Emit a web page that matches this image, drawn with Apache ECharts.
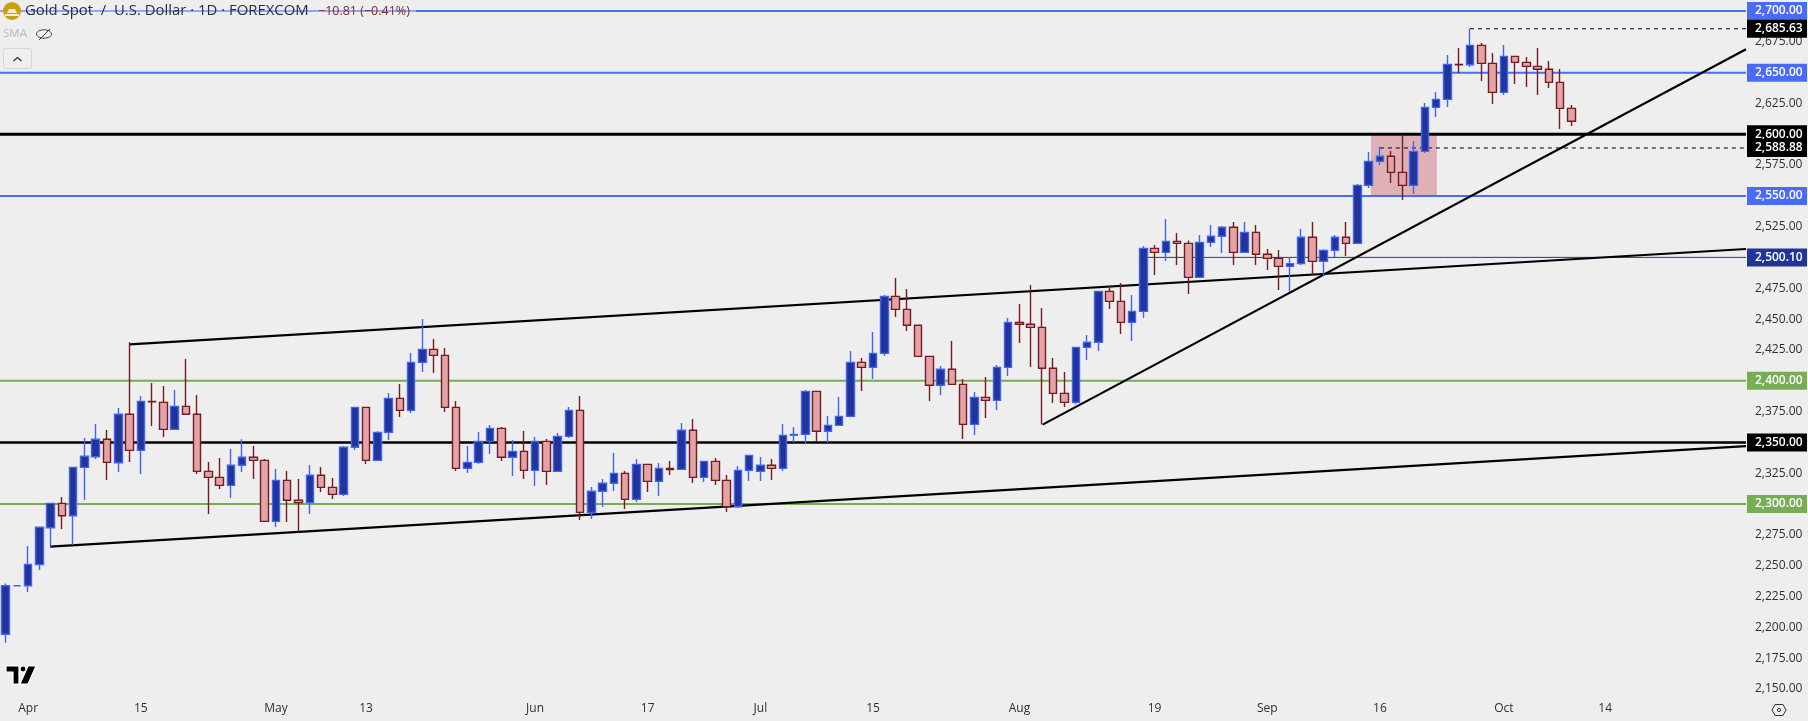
<!DOCTYPE html>
<html><head><meta charset="utf-8">
<style>html,body{margin:0;padding:0;background:#eeeeee}#c{width:1808px;height:721px}</style>
<script src="https://cdn.jsdelivr.net/npm/echarts@6/dist/echarts.min.js"></script>
</head><body><div id="c"></div>
<script>
const opens=[2194.3,2233.7,2233.7,2250.8,2280.8,2300.5,2290.5,2329.7,2338.4,2352.5,
2333.5,2372.8,2343.5,2383.3,2382.5,2360.6,2379.2,2372.8,2326.5,2321.6,
2315.1,2331.4,2337.9,2335.4,2285.9,2319.2,2303.0,2301.1,2323.3,2313.5,
2307.8,2346.0,2378.4,2335.4,2358.1,2385.7,2376.0,2414.9,2425.5,2420.6,
2378.4,2328.9,2333.8,2350.8,2361.4,2337.9,2342.7,2327.3,2350.8,2326.5,
2354.9,2376.0,2293.2,2310.3,2316.8,2324.9,2303.8,2332.2,2318.4,2328.9,
2328.1,2359.8,2321.6,2334.6,2319.2,2297.8,2327.3,2326.5,2331.4,2328.9,
2355.7,2356.5,2391.4,2359.0,2363.8,2371.1,2414.9,2410.9,2422.2,2468.5,
2457.9,2445.0,2419.8,2396.3,2409.3,2397.1,2364.6,2386.5,2384.1,2410.9,
2447.4,2445.8,2443.3,2410.1,2389.8,2382.5,2427.1,2431.2,2472.5,2464.4,
2447.4,2456.3,2507.4,2504.2,2513.1,2511.5,2483.9,2512.3,2517.2,2524.5,
2504.2,2520.4,2502.6,2499.3,2492.8,2495.0,2516.4,2496.9,2505.8,2516.4,
2511.5,2558.5,2578.0,2582.1,2569.1,2558.5,2586.1,2621.8,2628.3,2656.7,
2656.4,2672.1,2657.5,2634.0,2663.2,2658.3,2655.1,2652.7,2642.1,2621.0];
const closes=[2233.7,2233.7,2251.0,2281.1,2300.5,2290.5,2329.7,2338.7,2352.5,2333.8,
2372.8,2343.5,2383.3,2383.0,2360.6,2379.2,2372.8,2326.5,2321.6,2315.1,
2331.4,2337.9,2335.4,2285.9,2319.2,2303.0,2301.1,2323.3,2313.5,2307.8,
2346.0,2378.4,2335.4,2358.1,2385.7,2376.0,2414.9,2425.5,2420.6,2378.4,
2328.9,2333.8,2350.8,2361.4,2337.9,2342.7,2327.3,2350.8,2326.5,2354.9,
2376.0,2293.2,2310.3,2316.8,2324.9,2303.8,2332.2,2318.4,2328.9,2327.9,
2359.8,2321.6,2334.6,2319.2,2297.8,2327.3,2339.5,2331.4,2328.9,2355.7,
2356.5,2391.4,2359.0,2363.8,2371.1,2414.9,2410.9,2422.2,2468.5,2457.9,
2445.0,2419.8,2396.3,2409.3,2397.1,2364.6,2386.5,2384.1,2410.9,2447.4,
2445.8,2443.3,2410.1,2389.8,2382.5,2427.1,2431.2,2472.5,2464.4,2447.4,
2456.3,2507.4,2504.2,2513.1,2511.5,2483.9,2512.3,2517.2,2524.5,2504.2,
2520.4,2502.6,2499.3,2492.8,2495.0,2516.4,2496.9,2505.8,2516.4,2511.5,
2558.5,2578.0,2582.1,2569.1,2558.5,2586.1,2621.8,2628.3,2656.7,2656.4,
2672.1,2657.5,2634.0,2663.2,2658.3,2655.1,2652.7,2642.1,2621.0,2610.5];
const lows=[2187.5,2233.7,2228.6,2246.5,2265.4,2279.7,2266.7,2303.2,2336.5,2319.5,
2326.0,2334.1,2324.3,2363.3,2354.4,2360.6,2372.8,2324.3,2291.9,2312.2,
2304.9,2326.0,2320.3,2285.9,2281.3,2285.4,2277.3,2291.9,2309.7,2304.1,
2306.5,2343.8,2332.5,2335.4,2351.9,2370.6,2373.8,2407.1,2406.3,2374.6,
2326.8,2325.2,2332.5,2340.6,2334.9,2322.7,2320.3,2314.6,2315.4,2326.5,
2353.5,2287.0,2287.8,2297.6,2310.5,2295.9,2301.6,2309.7,2306.5,2323.5,
2328.0,2317.0,2317.8,2315.4,2293.5,2296.8,2318.7,2318.7,2319.5,2326.8,
2350.0,2348.7,2351.1,2349.5,2363.8,2371.0,2391.7,2401.4,2420.1,2451.7,
2440.4,2419.5,2383.6,2388.4,2397.0,2352.7,2356.0,2369.8,2376.3,2403.9,
2430.6,2411.2,2364.6,2381.9,2378.7,2380.9,2416.8,2424.1,2458.2,2437.9,
2432.2,2450.9,2485.8,2497.2,2493.9,2470.4,2483.9,2508.5,2503.6,2493.9,
2504.0,2493.9,2489.9,2473.6,2472.0,2493.9,2485.0,2485.5,2500.4,2501.2,
2511.0,2556.4,2575.0,2560.4,2546.6,2551.5,2584.8,2614.0,2622.1,2649.7,
2654.6,2643.2,2624.5,2631.8,2640.8,2638.3,2631.8,2637.5,2604.3,2606.7];
const highs=[2235.6,2233.7,2265.9,2281.6,2301.0,2305.7,2330.0,2353.5,2364.9,2360.0,
2377.9,2431.2,2387.6,2398.2,2395.7,2392.5,2417.6,2388.4,2334.1,2337.3,
2344.6,2352.5,2347.1,2336.5,2328.4,2326.8,2320.3,2331.6,2330.0,2321.1,
2347.1,2378.8,2378.8,2359.0,2390.1,2397.4,2422.5,2450.1,2433.9,2426.6,
2383.6,2347.1,2358.4,2364.1,2362.5,2351.9,2359.2,2354.4,2352.7,2357.6,
2378.7,2387.6,2313.8,2320.3,2341.4,2326.8,2336.5,2332.6,2333.3,2334.9,
2365.7,2369.0,2335.0,2337.3,2323.5,2330.8,2340.0,2338.1,2336.5,2364.9,
2362.5,2392.5,2391.8,2371.4,2386.8,2424.1,2418.5,2439.6,2469.6,2483.4,
2474.4,2445.3,2420.0,2412.0,2432.2,2401.4,2390.9,2403.0,2412.8,2450.9,
2462.3,2477.7,2459.0,2418.5,2407.1,2427.4,2437.1,2472.8,2476.9,2479.3,
2469.6,2509.3,2510.1,2531.2,2519.9,2513.9,2518.3,2526.4,2525.6,2528.8,
2528.8,2526.4,2506.9,2506.1,2500.1,2523.1,2528.8,2506.6,2518.3,2528.8,
2559.6,2585.6,2589.6,2586.4,2600.2,2594.5,2625.4,2634.3,2664.3,2670.0,
2685.63,2674.0,2665.9,2672.4,2663.5,2662.7,2670.0,2659.4,2652.9,2623.7];

const barSlots=155;
const tickIndex=[2,12,24,32,47,57,67,77,90,102,112,122,133,142];
const tickLabels=['Apr','15','May','13','Jun','17','Jul','15','Aug','19','Sep','16','Oct','14'];

const levelPrices=[2700,2685.63,2650,2600,2588.88,2550,2500.10,2400,2350,2300];
const levelStart=[-0.5,130,-0.5,-0.5,122,-0.5,101,-0.5,-0.5,-0.5];

const trendUpper=[[11,2429.5],[154.5,2506.9]];
const trendLower=[[3.94,2265.4],[154.5,2347]];
const trendSteep=[[92.06,2364.4],[154.5,2668.9]];
const zoneBox=[[121.2,2600],[127.06,2550]];

const BLUE='#4a6af8',NAVY='#22349a',GREEN='#76ad55',BLACK='#000000';
const levelStyle=[
 {c:BLUE,w:2},{c:BLACK,w:1,d:[4,4]},{c:BLUE,w:2},{c:BLACK,w:3},{c:BLACK,w:1,d:[4,4]},
 {c:BLUE,w:2},{c:NAVY,w:1},{c:GREEN,w:2},{c:BLACK,w:2.5},{c:GREEN,w:2}
];
const fmt=v=>v.toLocaleString('en-US',{minimumFractionDigits:2,maximumFractionDigits:2});
const axisFont='"Open Sans","Noto Sans",sans-serif';
const chart=echarts.init(document.getElementById('c'),null,{renderer:'canvas'});
const candles=opens.map((o,i)=>[o,closes[i],lows[i],highs[i]]);
while(candles.length<barSlots)candles.push(['-','-','-','-']);
const cats=Array.from({length:barSlots},(_,i)=>String(i));

const levelSeries=levelPrices.map((p,i)=>({
  type:'line',xAxisIndex:1,yAxisIndex:0,z:3,silent:true,symbol:'none',animation:false,clip:false,
  data:[[levelStart[i],p],[154.5,p]],
  lineStyle:{color:levelStyle[i].c,width:levelStyle[i].w,type:levelStyle[i].d||'solid'},
  endLabel:{show:true,formatter:()=>fmt(p),color:'#fff',backgroundColor:levelStyle[i].c,
    width:52,height:18,lineHeight:18,align:'left',verticalAlign:'middle',distance:1,
    padding:[0,0,0,8],fontFamily:axisFont,fontSize:12,fontWeight:600}
}));
const trendSeries=[trendUpper,trendLower,trendSteep].map(d=>({
  type:'line',xAxisIndex:1,yAxisIndex:0,z:4,silent:true,symbol:'none',animation:false,
  data:d,lineStyle:{color:'#000',width:2.2}
}));

chart.setOption({
  backgroundColor:'#eeeeee',animation:false,
  grid:{left:0,right:62,top:11,height:677.9,containLabel:false},
  xAxis:[{type:'category',data:cats,boundaryGap:true,position:'bottom',
      axisLine:{show:false},axisTick:{show:false},splitLine:{show:false},
      axisLabel:{interval:(i)=>tickIndex.includes(i),formatter:(v)=>tickLabels[tickIndex.indexOf(Number(v))]||'',
        margin:14,color:'#2f2f2f',fontSize:12,fontFamily:axisFont,hideOverlap:false}},
    {type:'value',show:false,min:-0.5,max:154.5,splitLine:{show:false}}],
  yAxis:[{type:'value',position:'right',min:2150,max:2700,interval:25,scale:true,
      axisLine:{show:false},axisTick:{show:false},splitLine:{show:false},
      axisLabel:{margin:9,align:'left',color:'#2f2f2f',fontSize:12,fontFamily:axisFont,formatter:fmt,hideOverlap:false}}],
  series:[
    {type:'line',xAxisIndex:1,yAxisIndex:0,z:1,silent:true,symbol:'none',animation:false,data:[],
     markArea:{silent:true,animation:false,itemStyle:{color:'#dfb1b7',opacity:1},
       data:[[{coord:zoneBox[0]},{coord:zoneBox[1]}]]}},
    ...levelSeries,
    ...trendSeries,
    {type:'candlestick',xAxisIndex:0,yAxisIndex:0,z:6,silent:true,animation:false,data:candles,barWidth:8,
     itemStyle:{color:'#22349a',color0:'#e2a4a6',borderColor:'#4164f5',borderColor0:'#741c22',borderWidth:1.4}}
  ],
  graphic:{elements:[
    {type:'rect',z:50,shape:{x:0,y:3,width:416,height:17},style:{fill:'rgba(238,238,238,0.45)'}},
    {type:'circle',z:51,shape:{cx:12,cy:11,r:9},style:{fill:'#c9a00f'}},
    {type:'polygon',z:52,shape:{points:[[9,9],[15,9],[17,13],[7,13]]},style:{fill:'#f6efcf'}},
    {type:'rect',z:52,shape:{x:5,y:14,width:14,height:2},style:{fill:'#f6efcf'}},
    {type:'text',z:53,x:25,y:11,style:{text:'Gold Spot  /  U.S. Dollar · 1D · FOREXCOM',fill:'#2a2e39',fontSize:14.9,fontFamily:'"Open Sans",sans-serif',verticalAlign:'middle',align:'left'}},
    {type:'text',z:53,x:318,y:11,style:{text:'−10.81 (−0.41%)',fill:'#7e2a2e',fontSize:12.5,fontFamily:'"Open Sans",sans-serif',verticalAlign:'middle',align:'left'}},
    {type:'text',z:53,x:3,y:34,style:{text:'SMA',fill:'#b6bac6',fontSize:11.5,fontFamily:'"Open Sans",sans-serif',verticalAlign:'middle',align:'left'}},
    {type:'ellipse',z:53,shape:{cx:44,cy:34,rx:7.5,ry:4.2},style:{fill:'none',stroke:'#3a3e48',lineWidth:1}},
    {type:'line',z:53,shape:{x1:39,y1:40,x2:50,y2:29},style:{stroke:'#3a3e48',lineWidth:1}},
    {type:'rect',z:53,shape:{x:3.5,y:48.5,width:28,height:20,r:2},style:{fill:'none',stroke:'#d3d6de',lineWidth:1}},
    {type:'polyline',z:53,shape:{points:[[13.5,61],[17.5,57.5],[21.5,61]]},style:{fill:'none',stroke:'#2a2e39',lineWidth:1.2}},
    {type:'polygon',z:54,shape:{points:[[6,666],[19,666],[19,684],[13,684],[13,672],[6,672]]},style:{fill:'#000',stroke:'#fff',lineWidth:1.2}},
    {type:'circle',z:54,shape:{cx:23,cy:669,r:3},style:{fill:'#000',stroke:'#fff',lineWidth:1.2}},
    {type:'polygon',z:54,shape:{points:[[28,666],[36,666],[28,684],[20,684]]},style:{fill:'#000',stroke:'#fff',lineWidth:1.2}},
    {type:'polygon',z:53,shape:{points:[[1772,710],[1775,704.5],[1783,704.5],[1786,710],[1783,715.5],[1775,715.5]]},style:{fill:'none',stroke:'#333',lineWidth:1}},
    {type:'circle',z:53,shape:{cx:1779,cy:710,r:1.6},style:{fill:'none',stroke:'#333',lineWidth:1}}
  ]}
});
</script></body></html>
